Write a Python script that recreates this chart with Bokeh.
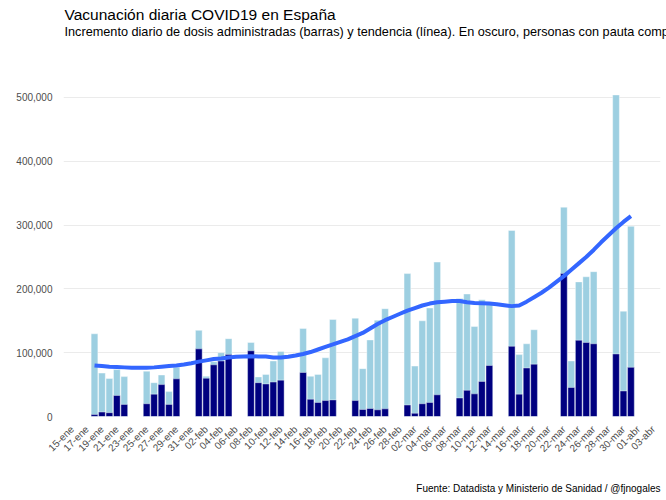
import pandas as pd
from math import pi
from bokeh.plotting import figure
from bokeh.models import ColumnDataSource, Range1d, FixedTicker, NumeralTickFormatter, Title
from bokeh.embed import file_html
from bokeh.resources import INLINE

# ---- datos ----
dias = ["2021-01-18", "2021-01-19", "2021-01-20", "2021-01-21", "2021-01-22",
        "2021-01-25", "2021-01-26", "2021-01-27", "2021-01-28", "2021-01-29",
        "2021-02-01", "2021-02-02", "2021-02-03", "2021-02-04", "2021-02-05",
        "2021-02-08", "2021-02-09", "2021-02-10", "2021-02-11", "2021-02-12",
        "2021-02-15", "2021-02-16", "2021-02-17", "2021-02-18", "2021-02-19",
        "2021-02-22", "2021-02-23", "2021-02-24", "2021-02-25", "2021-02-26",
        "2021-03-01", "2021-03-02", "2021-03-03", "2021-03-04", "2021-03-05",
        "2021-03-08", "2021-03-09", "2021-03-10", "2021-03-11", "2021-03-12",
        "2021-03-15", "2021-03-16", "2021-03-17", "2021-03-18",
        "2021-03-22", "2021-03-23", "2021-03-24", "2021-03-25", "2021-03-26",
        "2021-03-29", "2021-03-30", "2021-03-31"]

dosis = [129600, 68000, 59600, 73500, 62500,
         71000, 53000, 65000, 39000, 77000,
         135000, 63000, 86000, 100000, 122000,
         116000, 62000, 66000, 87000, 102000,
         138000, 63000, 66000, 92000, 152000,
         154000, 75000, 120000, 151000, 169000,
         224000, 79000, 150000, 170000, 242000,
         185000, 192000, 141000, 183000, 177000,
         291500, 97000, 114000, 136000,
         328000, 87000, 211000, 219000, 227000,
         504000, 165000, 298000]

pauta_completa = [3000, 7000, 6000, 33000, 19000,
                  20000, 35000, 50000, 19000, 59000,
                  106000, 60000, 81000, 87000, 97000,
                  103000, 53000, 51000, 54000, 57000,
                  69000, 27000, 22000, 25000, 26000,
                  25000, 11000, 12500, 10500, 12000,
                  18000, 5000, 20000, 22000, 34000,
                  29000, 41000, 35500, 55000, 80000,
                  110000, 35000, 76000, 82000,
                  224000, 45500, 119500, 116000, 114000,
                  98000, 40000, 77000]

# tendencia diaria del 18-ene al 31-mar
tendencia = [80000, 79000, 78000, 77500, 77000, 76500, 76500, 76500, 77000, 78000,
             79000, 80000, 81500, 83500,
             86000, 88000, 90000, 91000, 92500, 93500, 94000, 94500, 94000, 94000,
             92500, 92500, 93500, 95500, 98000, 101000, 105000, 109000, 113000,
             117000, 121000, 126000, 131000, 138000, 145000, 151000, 156000, 161000,
             166000, 170000, 174000, 177000, 179000, 180000, 181000, 181000, 179000,
             178000, 177500, 177000, 176000, 174500, 173000, 174000, 180000, 187000,
             194000, 202000, 211000, 220000, 230000, 240000, 250000, 261000, 273000,
             284000, 295000, 305000, 314000]

etiquetas_x = ["15-ene", "17-ene", "19-ene", "21-ene", "23-ene", "25-ene", "27-ene",
               "29-ene", "31-ene", "02-feb", "04-feb", "06-feb", "08-feb", "10-feb",
               "12-feb", "14-feb", "16-feb", "18-feb", "20-feb", "22-feb", "24-feb",
               "26-feb", "28-feb", "02-mar", "04-mar", "06-mar", "08-mar", "10-mar",
               "12-mar", "14-mar", "16-mar", "18-mar", "20-mar", "22-mar", "24-mar",
               "26-mar", "28-mar", "30-mar", "01-abr", "03-abr"]

ticks_y = [0, 100000, 200000, 300000, 400000, 500000]

titulo = "Vacunación diaria COVID19 en España"
subtitulo = ("Incremento diario de dosis administradas (barras) y tendencia (línea). "
             "En oscuro, personas con pauta completa")
fuente_datos = "Fuente: Datadista y Ministerio de Sanidad / @fjnogales"

origen = pd.Timestamp("2021-01-15")


def dia_num(fechas):
    return [(pd.Timestamp(f) - origen).days for f in fechas]


barras = ColumnDataSource(data=dict(x=dia_num(dias), dosis=dosis, completa=pauta_completa))
fechas_tend = pd.date_range("2021-01-18", "2021-03-31")
linea = ColumnDataSource(data=dict(x=dia_num(fechas_tend), y=tendencia))
fechas_ticks = pd.date_range("2021-01-15", "2021-04-03", freq="2D")
pos_ticks = dia_num(fechas_ticks)

FUENTE = "Liberation Sans"


def texto(t, size, standoff, align="left", offset=0):
    return Title(text=t, text_font=FUENTE, text_font_size=size, text_font_style="normal",
                 text_color="black", align=align, standoff=standoff, offset=offset)


def hueco(standoff):
    # separador invisible para colocar los textos
    return Title(text=" ", text_font=FUENTE, text_font_size="1px", standoff=standoff)


p = figure(width=666, height=500, output_backend="svg", toolbar_location=None,
           x_range=Range1d(-1.161, 78.97), y_range=Range1d(0, 514100),
           min_border_left=63, min_border_right=6, min_border_top=88, min_border_bottom=84)

p.vbar(x="x", top="dosis", width=0.9, source=barras, fill_color="#9dcfe1",
       line_color="white", line_width=0.4)
p.vbar(x="x", top="completa", width=0.9, source=barras, fill_color="#000080",
       line_color="white", line_width=0.4)
p.line(x="x", y="y", source=linea, line_color="#3366FF", line_width=4)

# cabecera (el primero queda junto al grafico)
p.add_layout(hueco(41), "above")
p.add_layout(texto(subtitulo, "12.7px", 11, offset=1), "above")
p.add_layout(texto(titulo, "15.5px", -10, offset=1), "above")
p.add_layout(hueco(1), "above")

# pie
p.add_layout(hueco(17), "below")
p.add_layout(texto(fuente_datos, "10px", 0, align="right"), "below")
p.add_layout(hueco(4), "below")

# ejes
p.xaxis.ticker = FixedTicker(ticks=pos_ticks)
p.xaxis.major_label_overrides = {t: e for t, e in zip(pos_ticks, etiquetas_x)}
p.xaxis.major_label_orientation = pi / 4
p.yaxis.ticker = FixedTicker(ticks=ticks_y)
p.yaxis.formatter = NumeralTickFormatter(format="0,0")

for ax in (p.xaxis, p.yaxis):
    ax.axis_line_color = None
    ax.major_tick_line_color = None
    ax.minor_tick_line_color = None
    ax.major_label_text_color = "#4d4d4d"
    ax.major_label_text_font = FUENTE
    ax.major_label_text_font_size = "10px"
    ax.major_label_standoff = 5

p.xgrid.grid_line_color = None
p.ygrid.grid_line_color = "#ebebeb"
p.ygrid.grid_line_width = 1
p.outline_line_color = None
p.background_fill_color = "white"
p.border_fill_color = "white"

open("out.html", "w").write(file_html(p, INLINE))
